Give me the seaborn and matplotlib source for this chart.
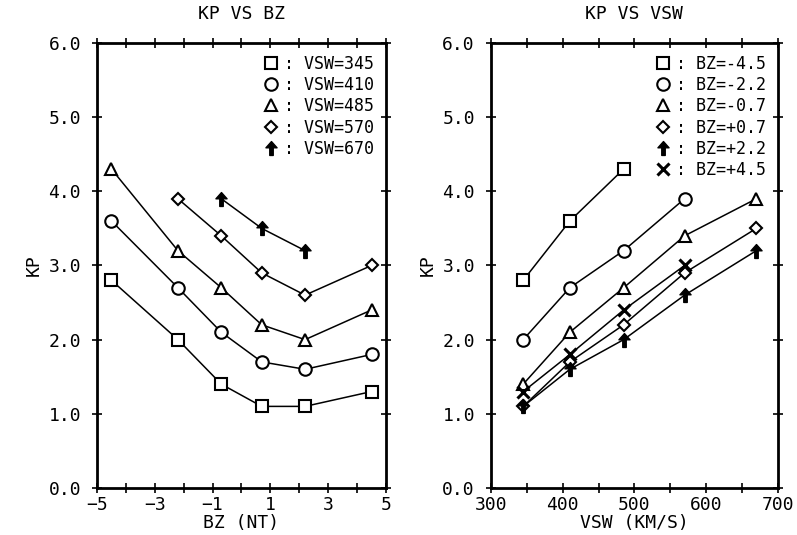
import numpy as np
import pandas as pd
import matplotlib
matplotlib.use("Agg")
import matplotlib.pyplot as plt
from matplotlib.path import Path
from matplotlib.lines import Line2D
import seaborn as sns

# ---- data ----
bz_values = [-4.5, -2.2, -0.7, 0.7, 2.2, 4.5]
vsw_values = [345, 410, 485, 570, 670]

# KP vs BZ, one series per VSW (None = missing)
kp_vsw345 = [2.8, 2.0, 1.4, 1.1, 1.1, 1.3]
kp_vsw410 = [3.6, 2.7, 2.1, 1.7, 1.6, 1.8]
kp_vsw485 = [4.3, 3.2, 2.7, 2.2, 2.0, 2.4]
kp_vsw570 = [None, 3.9, 3.4, 2.9, 2.6, 3.0]
kp_vsw670 = [None, None, 3.9, 3.5, 3.2, None]

# KP vs VSW, one series per BZ
kp_bzm45 = [2.8, 3.6, 4.3, None, None]
kp_bzm22 = [2.0, 2.7, 3.2, 3.9, None]
kp_bzm07 = [1.4, 2.1, 2.7, 3.4, 3.9]
kp_bzp07 = [1.1, 1.7, 2.2, 2.9, 3.5]
kp_bzp22 = [1.1, 1.6, 2.0, 2.6, 3.2]
kp_bzp45 = [1.3, 1.8, 2.4, 3.0, None]

left_labels = ["VSW=345", "VSW=410", "VSW=485", "VSW=570", "VSW=670"]
right_labels = ["BZ=-4.5", "BZ=-2.2", "BZ=-0.7", "BZ=+0.7", "BZ=+2.2", "BZ=+4.5"]

# ---- styling ----
sns.set_theme(style="ticks")
plt.rcParams["font.family"] = ["DejaVu Sans Mono"]
plt.rcParams["text.color"] = "black"
plt.rcParams["axes.labelcolor"] = "black"
plt.rcParams["axes.titlecolor"] = "black"

arrow = Path([(0, 1), (0.8, 0.1), (0.25, 0.1), (0.25, -1), (-0.25, -1),
              (-0.25, 0.1), (-0.8, 0.1), (0, 1)],
             [Path.MOVETO] + [Path.LINETO] * 6 + [Path.CLOSEPOLY])

left_markers = [("s", False), ("o", False), ("^", False), ("D", False), (arrow, True)]
right_markers = [("s", False), ("o", False), ("^", False), ("D", False), (arrow, True), ("x", True)]


def mk_kwargs(m, filled):
    if isinstance(m, str) and m == "x":
        return dict(marker="x", markersize=9, markeredgewidth=2.2,
                    markeredgecolor="black", color="black")
    if filled:
        return dict(marker=m, markersize=10, markerfacecolor="black",
                    markeredgecolor="black", markeredgewidth=1.0, color="black")
    size = 6 if (isinstance(m, str) and m == "D") else 9
    return dict(marker=m, markersize=size, markerfacecolor="white",
                markeredgecolor="black", markeredgewidth=1.5, color="black")


fig = plt.figure(figsize=(7.97, 5.35), dpi=100)
axL = fig.add_axes([0.1217, 0.0879, 0.3626, 0.8318])
axR = fig.add_axes([0.616, 0.0879, 0.360, 0.8318])

left_series = [kp_vsw345, kp_vsw410, kp_vsw485, kp_vsw570, kp_vsw670]
right_series = [kp_bzm45, kp_bzm22, kp_bzm07, kp_bzp07, kp_bzp22, kp_bzp45]

handlesL = []
for lab, ys, (m, f) in zip(left_labels, left_series, left_markers):
    df = pd.DataFrame({"x": bz_values, "y": ys}).dropna()
    kw = mk_kwargs(m, f)
    sns.lineplot(data=df, x="x", y="y", ax=axL, linewidth=1.1, **kw)
    handlesL.append(Line2D([], [], linestyle="none", label=": " + lab, **kw))

handlesR = []
for lab, ys, (m, f) in zip(right_labels, right_series, right_markers):
    df = pd.DataFrame({"x": vsw_values, "y": ys}).dropna()
    kw = mk_kwargs(m, f)
    sns.lineplot(data=df, x="x", y="y", ax=axR, linewidth=1.1, **kw)
    handlesR.append(Line2D([], [], linestyle="none", label=": " + lab, **kw))

fs = 13
for ax in (axL, axR):
    ax.set_ylim(0, 6)
    ax.set_yticks(np.arange(0, 6.01, 1.0))
    ax.set_yticklabels([f"{v:.1f}" for v in np.arange(0, 6.01, 1.0)], fontsize=fs)
    ax.set_ylabel("KP", fontsize=fs, labelpad=4)
    for s in ax.spines.values():
        s.set_linewidth(2)
        s.set_color("black")
    ax.tick_params(which="both", direction="inout", top=True, right=True,
                   length=7, width=1.2, colors="black", labelsize=fs)
    ax.tick_params(axis="y", which="both", pad=8)
    ax.tick_params(axis="x", which="both", pad=2)
    ax.grid(False)

axL.set_xlim(-5, 5)
axL.set_xticks([-5, -3, -1, 1, 3, 5])
axL.set_xticks(np.arange(-5, 6, 1), minor=True)
axL.set_xlabel("BZ (NT)", fontsize=fs, labelpad=0)
axL.set_title("KP VS BZ", fontsize=fs, pad=17)

axR.set_xlim(300, 700)
axR.set_xticks(np.arange(300, 701, 100))
axR.set_xticks(np.arange(300, 701, 50), minor=True)
axR.set_xlabel("VSW (KM/S)", fontsize=fs, labelpad=0)
axR.set_title("KP VS VSW", fontsize=fs, pad=17)

for ax, hs in ((axL, handlesL), (axR, handlesR)):
    ax.legend(handles=hs, loc="upper right", frameon=False, fontsize=12,
              handlelength=0.8, handletextpad=0.4, labelspacing=0.2,
              borderaxespad=0.3)

fig.savefig("out.png", dpi=100)
